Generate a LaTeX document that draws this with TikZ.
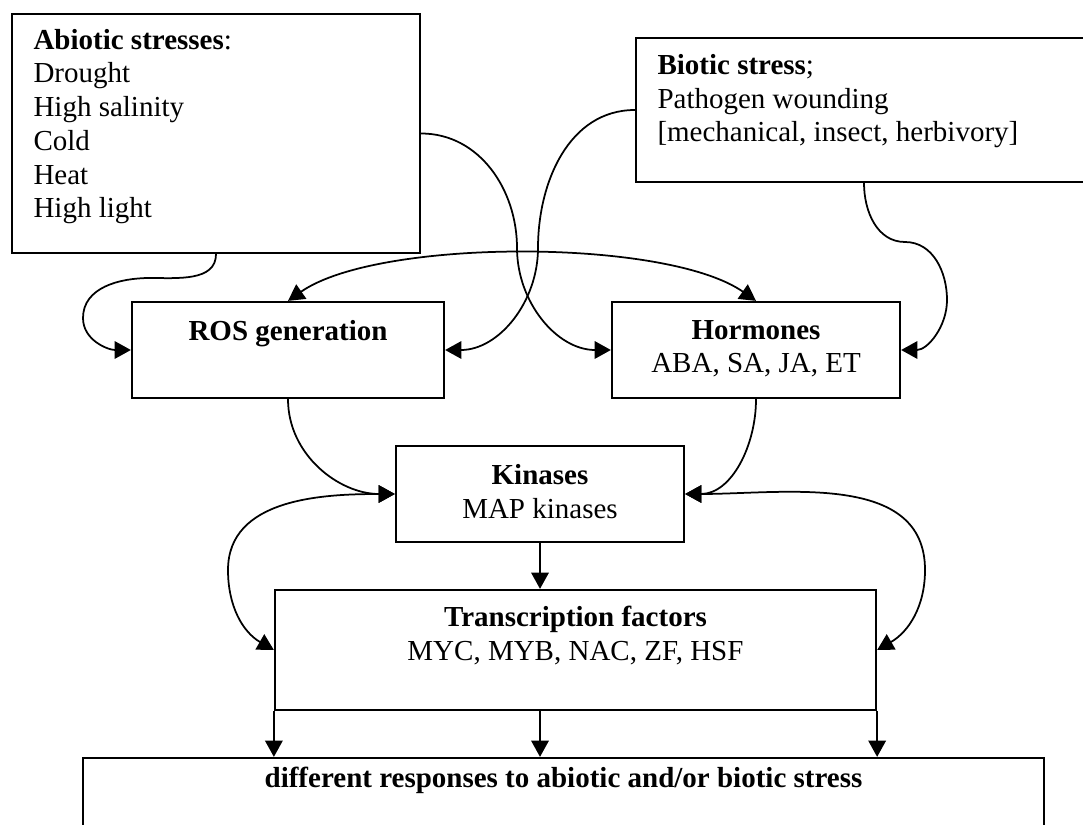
\documentclass[tikz,border=0pt]{standalone}
\usepackage{fontspec}
\setmainfont{Liberation Serif}
\usetikzlibrary{arrows.meta,fit}

\tikzset{
  box/.style={draw, line width=0.9pt, inner sep=0pt},
  txt/.style={inner sep=0pt, align=left, font=\fontsize{11.6}{13.5}\selectfont},
  link/.style={line width=0.7pt},
}

\begin{document}
\begin{tikzpicture}[x=0.4pt, y=-0.4pt, >={Triangle[length=6.5pt,width=7pt]}]
  \useasboundingbox (0,0) rectangle (1083,824);
  \clip (0,0) rectangle (1083,824);

  % boxes
  \node[box, fit={(12,14) (420,253)}] (abio) {};
  \node[box, fit={(636,38) (1092,182)}] (bio) {};
  \node[box, fit={(132,302) (444,398)}] (ros) {};
  \node[box, fit={(612,302) (900,398)}] (horm) {};
  \node[box, fit={(396,446) (684,542)}] (kin) {};
  \node[box, fit={(275,590) (876,710)}] (tf) {};
  \node[box, fit={(83,758) (1044,870)}] (resp) {};

  % texts (base = last line)
  \node[txt, anchor=base west] (abio-t) at (33,218)
    {\textbf{Abiotic stresses}:\\Drought\\High salinity\\Cold\\Heat\\High light};
  \node[txt, anchor=base west] (bio-t) at (657,142)
    {\textbf{Biotic stress};\\Pathogen wounding\\{}[mechanical, insect, herbivory]};
  \node[txt, anchor=base] (ros-t) at (288,341) {\textbf{ROS generation}};
  \node[txt, align=center, anchor=base] (horm-t) at (756,373)
    {\textbf{Hormones}\\ABA, SA, JA, ET};
  \node[txt, align=center, anchor=base] (kin-t) at (540,518)
    {\textbf{Kinases}\\MAP kinases};
  \node[txt, align=center, anchor=base] (tf-t) at (575.5,660)
    {\textbf{Transcription factors}\\MYC, MYB, NAC, ZF, HSF};
  \node[txt, anchor=base] (resp-t) at (563.5,787)
    {\textbf{different responses to abiotic and/or biotic stress}};

  % stresses to ROS and hormones
  \draw[link,->] (abio.south) to[out=-90,in=0] (150,278) to[out=180,in=90] (83,318)
    to[out=-90,in=180] (ros.west);
  \draw[link,->] (abio.east) to[out=0,in=90] (517,248) to[out=-90,in=180] (horm.west);
  \draw[link,->] (bio.west) to[out=180,in=90] (538,248) to[out=-90,in=0] (ros.east);
  \draw[link,->] (bio.south) to[out=-90,in=180] (905,242) to[out=0,in=90] (947,300)
    to[out=-90,in=0] (horm.east);
  \draw[link,<->] (ros.north) to[out=35,in=145,looseness=0.6] (horm.north);

  % to kinases
  \draw[link,->] (ros.south) to[out=-90,in=180] (kin.west);
  \draw[link,->] (horm.south) to[out=-90,in=0] (kin.east);
  \draw[link,<->] (kin.west) to[out=180,in=90] (228,570) to[out=-90,in=150] (tf.west);
  \draw[link,<->] (kin.east) to[out=0,in=90] (925,570) to[out=-90,in=30] (tf.east);

  % straight arrows
  \draw[link,->] (kin.south) -- (kin.south |- tf.north);
  \draw[link,->] (tf.south west) -- (tf.south west |- resp.north);
  \draw[link,->] (kin.south |- tf.south) -- (kin.south |- resp.north);
  \draw[link,->] (tf.south east) -- (tf.south east |- resp.north);
\end{tikzpicture}
\end{document}
